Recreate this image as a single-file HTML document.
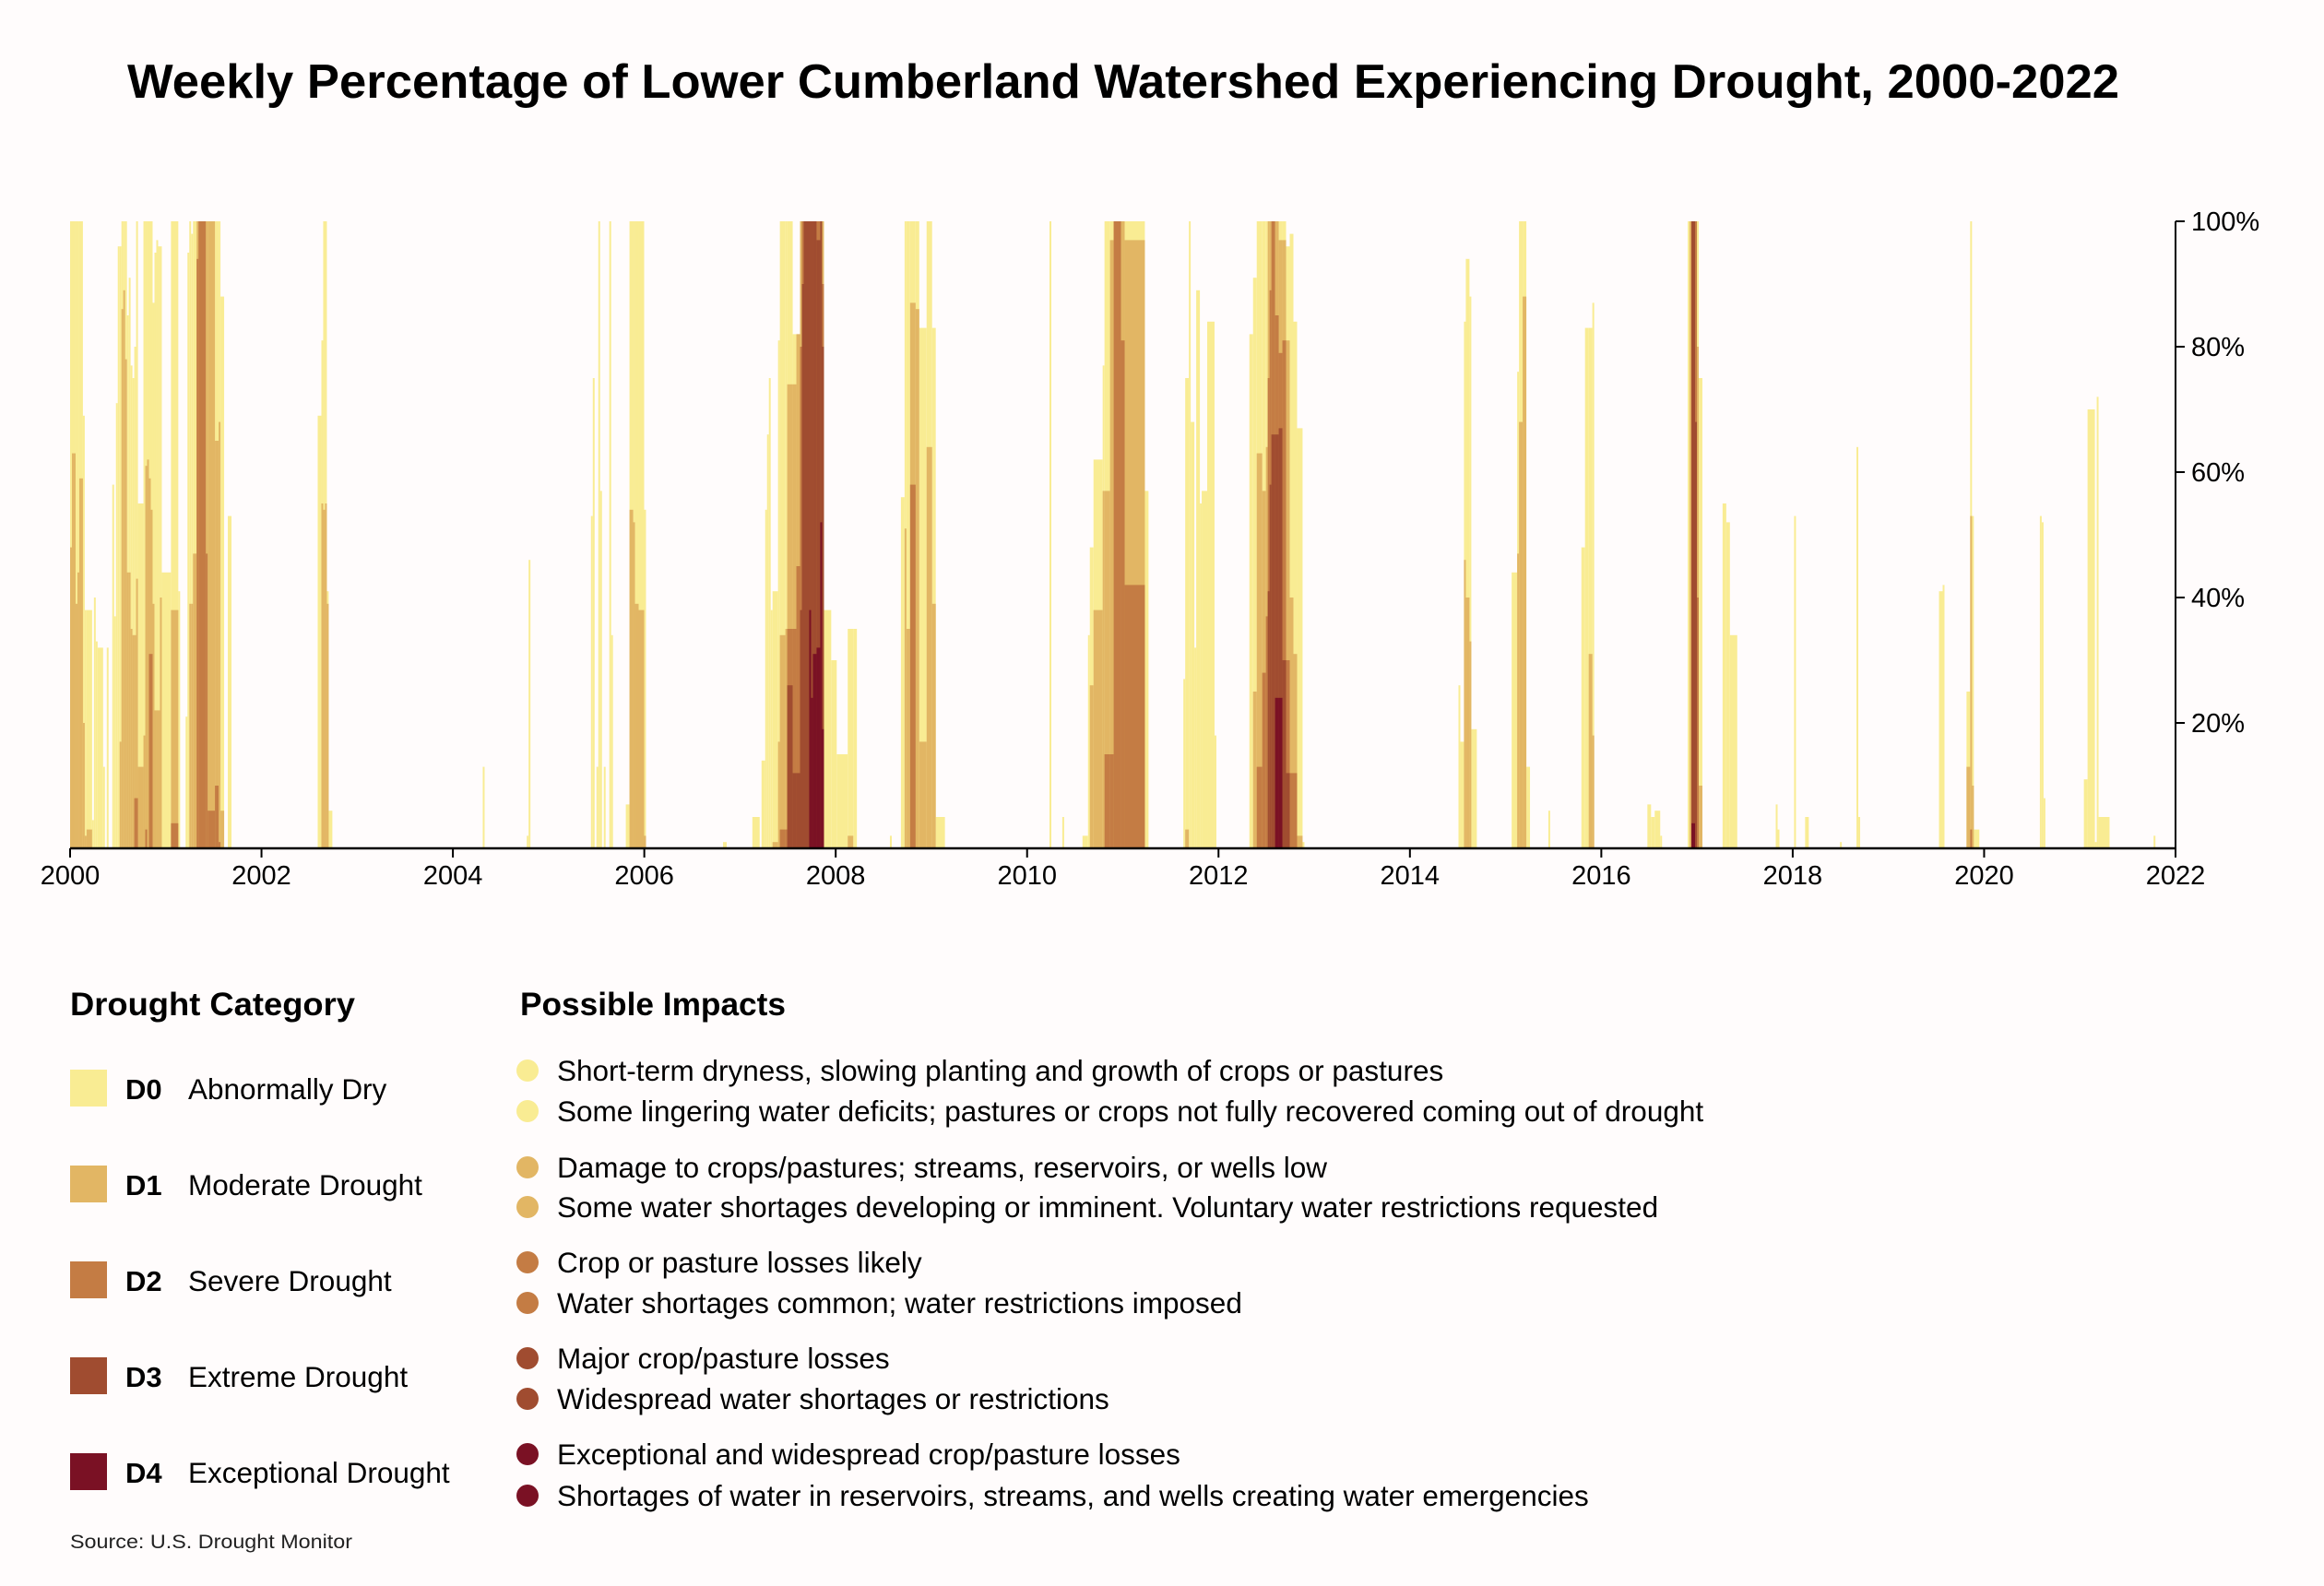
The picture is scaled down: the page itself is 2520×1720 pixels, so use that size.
<!DOCTYPE html>
<html><head><meta charset="utf-8"><style>
html,body{margin:0;padding:0;background:#fffcfc;}
svg{display:block;font-family:"Liberation Sans",Arial,sans-serif;}
</style></head><body>
<svg id="chart" width="2520" height="1720" viewBox="0 0 2520 1720" xmlns="http://www.w3.org/2000/svg">
<rect x="0" y="0" width="2520" height="1720" fill="#fffcfc"/>
<text x="1218" y="106" text-anchor="middle" font-size="52" font-weight="bold" fill="#000" textLength="2160" lengthAdjust="spacingAndGlyphs">Weekly Percentage of Lower Cumberland Watershed Experiencing Drought, 2000-2022</text>
<g id="bars"></g>
<g id="axes"></g>

<text x="76" y="1101" font-size="35" font-weight="bold" textLength="309" lengthAdjust="spacingAndGlyphs">Drought Category</text>
<text x="564" y="1101" font-size="35" font-weight="bold" textLength="288" lengthAdjust="spacingAndGlyphs">Possible Impacts</text>

<g>
<rect x="76" y="1160" width="40" height="40" fill="#f9ec93"/>
<text x="136" y="1192" font-size="31" font-weight="bold">D0</text>
<text x="204" y="1192" font-size="31.5">Abnormally Dry</text></g>
<g>
<rect x="76" y="1264" width="40" height="40" fill="#e2b664"/>
<text x="136" y="1296" font-size="31" font-weight="bold">D1</text>
<text x="204" y="1296" font-size="31.5">Moderate Drought</text></g>
<g>
<rect x="76" y="1368" width="40" height="40" fill="#c47c44"/>
<text x="136" y="1400" font-size="31" font-weight="bold">D2</text>
<text x="204" y="1400" font-size="31.5">Severe Drought</text></g>
<g>
<rect x="76" y="1472" width="40" height="40" fill="#a04c30"/>
<text x="136" y="1504" font-size="31" font-weight="bold">D3</text>
<text x="204" y="1504" font-size="31.5">Extreme Drought</text></g>
<g>
<rect x="76" y="1576" width="40" height="40" fill="#7a1124"/>
<text x="136" y="1608" font-size="31" font-weight="bold">D4</text>
<text x="204" y="1608" font-size="31.5">Exceptional Drought</text></g>

<g font-size="31.5">
<circle cx="572" cy="1161" r="12" fill="#f9ec93"/>
<text x="604" y="1172">Short-term dryness, slowing planting and growth of crops or pastures</text>
<circle cx="572" cy="1205" r="12" fill="#f9ec93"/>
<text x="604" y="1216">Some lingering water deficits; pastures or crops not fully recovered coming out of drought</text>
<circle cx="572" cy="1266" r="12" fill="#e2b664"/>
<text x="604" y="1277">Damage to crops/pastures; streams, reservoirs, or wells low</text>
<circle cx="572" cy="1309" r="12" fill="#e2b664"/>
<text x="604" y="1320">Some water shortages developing or imminent. Voluntary water restrictions requested</text>
<circle cx="572" cy="1369" r="12" fill="#c47c44"/>
<text x="604" y="1380">Crop or pasture losses likely</text>
<circle cx="572" cy="1413" r="12" fill="#c47c44"/>
<text x="604" y="1424">Water shortages common; water restrictions imposed</text>
<circle cx="572" cy="1473" r="12" fill="#a04c30"/>
<text x="604" y="1484">Major crop/pasture losses</text>
<circle cx="572" cy="1517" r="12" fill="#a04c30"/>
<text x="604" y="1528">Widespread water shortages or restrictions</text>
<circle cx="572" cy="1577" r="12" fill="#7a1124"/>
<text x="604" y="1588">Exceptional and widespread crop/pasture losses</text>
<circle cx="572" cy="1622" r="12" fill="#7a1124"/>
<text x="604" y="1633">Shortages of water in reservoirs, streams, and wells creating water emergencies</text>
</g>
<text x="76" y="1679" font-size="21" fill="#222" textLength="306" lengthAdjust="spacingAndGlyphs">Source: U.S. Drought Monitor</text>
</svg>
<script>
const segStart = [
0,1,3,4,5,7,8,9,12,13,
14,15,18,20,23,24,25,26,27,28,
29,30,31,32,33,34,35,36,37,40,
41,42,43,44,45,46,47,48,49,50,
55,59,63,64,65,66,67,69,70,74,
75,79,81,82,86,135,137,138,139,140,
141,225,249,250,284,285,287,288,289,291,
294,295,303,305,307,308,310,313,356,372,
377,379,380,381,382,383,386,387,390,391,
394,396,398,399,400,403,404,405,407,409,
410,411,415,418,424,427,447,453,455,456,
458,461,463,467,470,472,534,541,552,555,
556,558,563,564,567,569,573,575,586,607,
608,610,611,613,614,616,617,620,624,643,
645,647,650,652,653,654,655,657,659,661,
663,665,667,669,672,757,758,760,761,763,
764,786,789,790,792,794,806,824,826,828,
830,860,862,864,867,882,883,884,886,887,
888,901,903,905,930,931,940,946,965,974,
975,1019,1021,1034,1036,1037,1038,1074,1075,1076,
1098,1100,1104,1105,1106,1136];
const segEnd = [
1,3,4,5,7,8,9,12,13,14,
15,18,19,21,24,25,26,27,28,29,
30,31,32,33,34,35,36,37,40,41,
42,43,44,45,46,47,48,49,50,55,
59,60,64,65,66,67,69,70,74,75,
79,81,82,84,88,137,138,139,140,141,
143,226,250,251,285,286,288,289,290,292,
295,296,305,307,308,310,313,314,358,376,
379,380,381,382,383,386,387,390,391,394,
396,398,399,400,403,404,405,407,409,410,
411,415,418,424,427,429,448,455,456,458,
461,463,467,470,472,477,535,542,555,556,
558,563,564,567,569,573,575,586,588,608,
610,611,613,614,616,617,620,624,625,645,
647,650,652,653,654,655,657,659,661,663,
665,667,669,672,673,758,760,761,763,764,
767,789,790,792,794,796,807,826,828,830,
831,862,864,867,868,883,884,886,887,888,
890,903,905,909,931,932,941,948,966,975,
976,1021,1022,1036,1037,1038,1041,1075,1076,1077,
1100,1104,1105,1106,1112,1137];
const d0 = [
100,100,100,100,100,69,38,38,4.5,40,
33,32,13,32,58,37,71,96,96,100,
100,100,85,91,77,75,80,100,55,100,
100,100,100,100,87,95,97,96,96,44,
100,41,21,95,100,98,100,100,100,100,
100,100,100,88,53,69,81,100,100,41,
6,13,2,46,53,75,13,100,57,13,
100,34,7,100,100,100,100,54,1,5,
14,54,66,75,38,41,81,100,100,100,
82,82,100,100,100,100,100,100,100,100,
100,38,30,15,35,35,2,56,100,100,
100,100,83,100,83,5,100,5,2,34,
48,62,77,100,100,100,100,100,57,27,
75,100,68,32,89,55,57,84,18,82,
91,100,100,100,100,100,100,100,100,100,
96,98,84,67,1,26,17,84,94,88,
19,44,76,100,100,13,6,48,83,83,
87,7,5,6,2,100,100,100,100,100,
75,55,52,34,7,3,53,5,1,64,
5,41,42,25,100,53,3,53,52,8,
11,70,1,72,5,2];
const d1 = [
48,63,39,44,59,20,2,3,0,0,
0,0,0,0,0,0,0,0,17,86,
89,78,44,44,35,34,34,43,13,18,
61,62,59,54,39,22,22,22,40,0,
38,0,0,0,39,39,47,100,100,100,
100,65,68,6,0,0,55,54,55,39,
0,0,0,0,0,0,0,0,0,0,
0,0,0,54,52,39,38,2,0,0,
0,0,0,0,0,1,17,34,35,74,
74,82,100,100,100,100,100,100,100,100,
100,0,0,0,2,0,0,0,51,35,
87,86,17,64,39,0,0,0,0,0,
26,38,57,57,97,100,100,97,0,0,
3,0,0,0,0,0,0,0,0,0,
25,63,57,64,100,100,100,100,97,97,
81,40,31,2,0,0,0,46,40,33,
0,0,47,68,88,0,0,0,0,31,
18,0,0,0,0,0,100,100,100,80,
10,0,0,0,0,0,0,0,0,0,
0,0,0,13,53,10,0,0,0,0,
0,0,0,0,0,0];
const d2 = [
0,0,0,0,0,0,0,0,0,0,
0,0,0,0,0,0,0,0,0,0,
0,0,0,0,0,0,8,8,0,0,
3,0,31,31,0,0,0,0,0,0,
4,0,0,0,0,0,0,94,100,47,
6,10,1,0,0,0,0,0,0,0,
0,0,0,0,0,0,0,0,0,0,
0,0,0,0,0,0,0,0,0,0,
0,0,0,0,0,0,0,3,3,35,
35,45,80,100,100,100,100,100,100,100,
90,0,0,0,0,0,0,0,0,0,
58,0,0,0,0,0,0,0,0,0,
0,0,0,15,15,100,81,42,0,0,
0,0,0,0,0,0,0,0,0,0,
0,13,28,37,75,89,100,85,79,81,
30,12,12,0,0,0,0,0,0,0,
0,0,0,0,0,0,0,0,0,0,
0,0,0,0,0,0,0,100,100,40,
0,0,0,0,0,0,0,0,0,0,
0,0,0,0,3,0,0,0,0,0,
0,0,0,0,0,0];
const d3 = [
0,0,0,0,0,0,0,0,0,0,
0,0,0,0,0,0,0,0,0,0,
0,0,0,0,0,0,0,0,0,0,
0,0,0,0,0,0,0,0,0,0,
0,0,0,0,0,0,0,0,0,0,
0,0,0,0,0,0,0,0,0,0,
0,0,0,0,0,0,0,0,0,0,
0,0,0,0,0,0,0,0,0,0,
0,0,0,0,0,0,0,0,0,26,
12,12,38,90,100,100,100,100,97,100,
80,0,0,0,0,0,0,0,0,0,
0,0,0,0,0,0,0,0,0,0,
0,0,0,0,0,0,0,0,0,0,
0,0,0,0,0,0,0,0,0,0,
0,0,0,0,41,58,66,66,67,30,
12,0,0,0,0,0,0,0,0,0,
0,0,0,0,0,0,0,0,0,0,
0,0,0,0,0,0,0,100,68,0,
0,0,0,0,0,0,0,0,0,0,
0,0,0,0,0,0,0,0,0,0,
0,0,0,0,0,0];
const d4 = [
0,0,0,0,0,0,0,0,0,0,
0,0,0,0,0,0,0,0,0,0,
0,0,0,0,0,0,0,0,0,0,
0,0,0,0,0,0,0,0,0,0,
0,0,0,0,0,0,0,0,0,0,
0,0,0,0,0,0,0,0,0,0,
0,0,0,0,0,0,0,0,0,0,
0,0,0,0,0,0,0,0,0,0,
0,0,0,0,0,0,0,0,0,0,
0,0,0,0,0,38,24,31,32,52,
19,0,0,0,0,0,0,0,0,0,
0,0,0,0,0,0,0,0,0,0,
0,0,0,0,0,0,0,0,0,0,
0,0,0,0,0,0,0,0,0,0,
0,0,0,0,0,0,0,24,24,0,
0,0,0,0,0,0,0,0,0,0,
0,0,0,0,0,0,0,0,0,0,
0,0,0,0,0,0,0,4,0,0,
0,0,0,0,0,0,0,0,0,0,
0,0,0,0,0,0,0,0,0,0,
0,0,0,0,0,0];
const xTickYears = [2000,2002,2004,2006,2008,2010,2012,2014,2016,2018,2020,2022];
const yTickValues = [20,40,60,80,100];
const categoryNames = ['d0','d1','d2','d3','d4'];

const NS = 'http://www.w3.org/2000/svg';
const X0 = 76, X1 = 2359, Y0 = 920, YT = 240;
const WEEKS_PER_YEAR = 52.18;
function xWeek(w){ return X0 + (w / WEEKS_PER_YEAR) * ((X1 - X0) / 22); }
function xYear(yr){ return X0 + (yr - 2000) * ((X1 - X0) / 22); }
function yPct(p){ return Y0 - (p / 100) * (Y0 - YT); }
const colors = ['#f9ec93','#e2b664','#c47c44','#a04c30','#7a1124'];
const series = [d0,d1,d2,d3,d4];
const bars = document.getElementById('bars');
for (let c = 0; c < series.length; c++) {
  const g = document.createElementNS(NS, 'g');
  
  
  g.setAttribute('fill', colors[c]);
  for (let i = 0; i < segStart.length; i++) {
    const v = series[c][i];
    if (!v) continue;
    const x1 = xWeek(segStart[i]), x2 = xWeek(segEnd[i]);
    const r = document.createElementNS(NS, 'rect');
    
    
    r.setAttribute('x', x1.toFixed(2));
    r.setAttribute('width', Math.max(x2 - x1, 1.2).toFixed(2));
    r.setAttribute('y', yPct(v).toFixed(2));
    r.setAttribute('height', (Y0 - yPct(v)).toFixed(2));
    g.appendChild(r);
  }
  bars.appendChild(g);
}
const axes = document.getElementById('axes');
function mk(tag, attrs){ const e = document.createElementNS(NS, tag); for (const k in attrs) e.setAttribute(k, attrs[k]); return e; }
const xa = mk('line', {x1: X0, x2: X1 + 1, y1: Y0, y2: Y0, stroke: '#000', 'stroke-width': 2.5});


axes.appendChild(xa);
const ya = mk('line', {x1: X1, x2: X1, y1: YT, y2: Y0, stroke: '#000', 'stroke-width': 2});


axes.appendChild(ya);
xTickYears.forEach(yr => {
  const x = xYear(yr);
  const t = mk('line', {x1: x, x2: x, y1: Y0, y2: Y0 + 10, stroke: '#000', 'stroke-width': 2});
  
  
  axes.appendChild(t);
  const l = mk('text', {x: x, y: Y0 + 39, 'text-anchor': 'middle', 'font-size': 29, fill: '#000'});
  
  
  l.textContent = yr;
  axes.appendChild(l);
});
yTickValues.forEach(v => {
  const y = yPct(v);
  const t = mk('line', {x1: X1, x2: X1 + 10, y1: y, y2: y, stroke: '#000', 'stroke-width': 2});
  
  
  axes.appendChild(t);
  const l = mk('text', {x: X1 + 17, y: y + 10, 'font-size': 29, fill: '#000'});
  
  
  l.textContent = v + '%';
  axes.appendChild(l);
});
</script>
</body></html>
